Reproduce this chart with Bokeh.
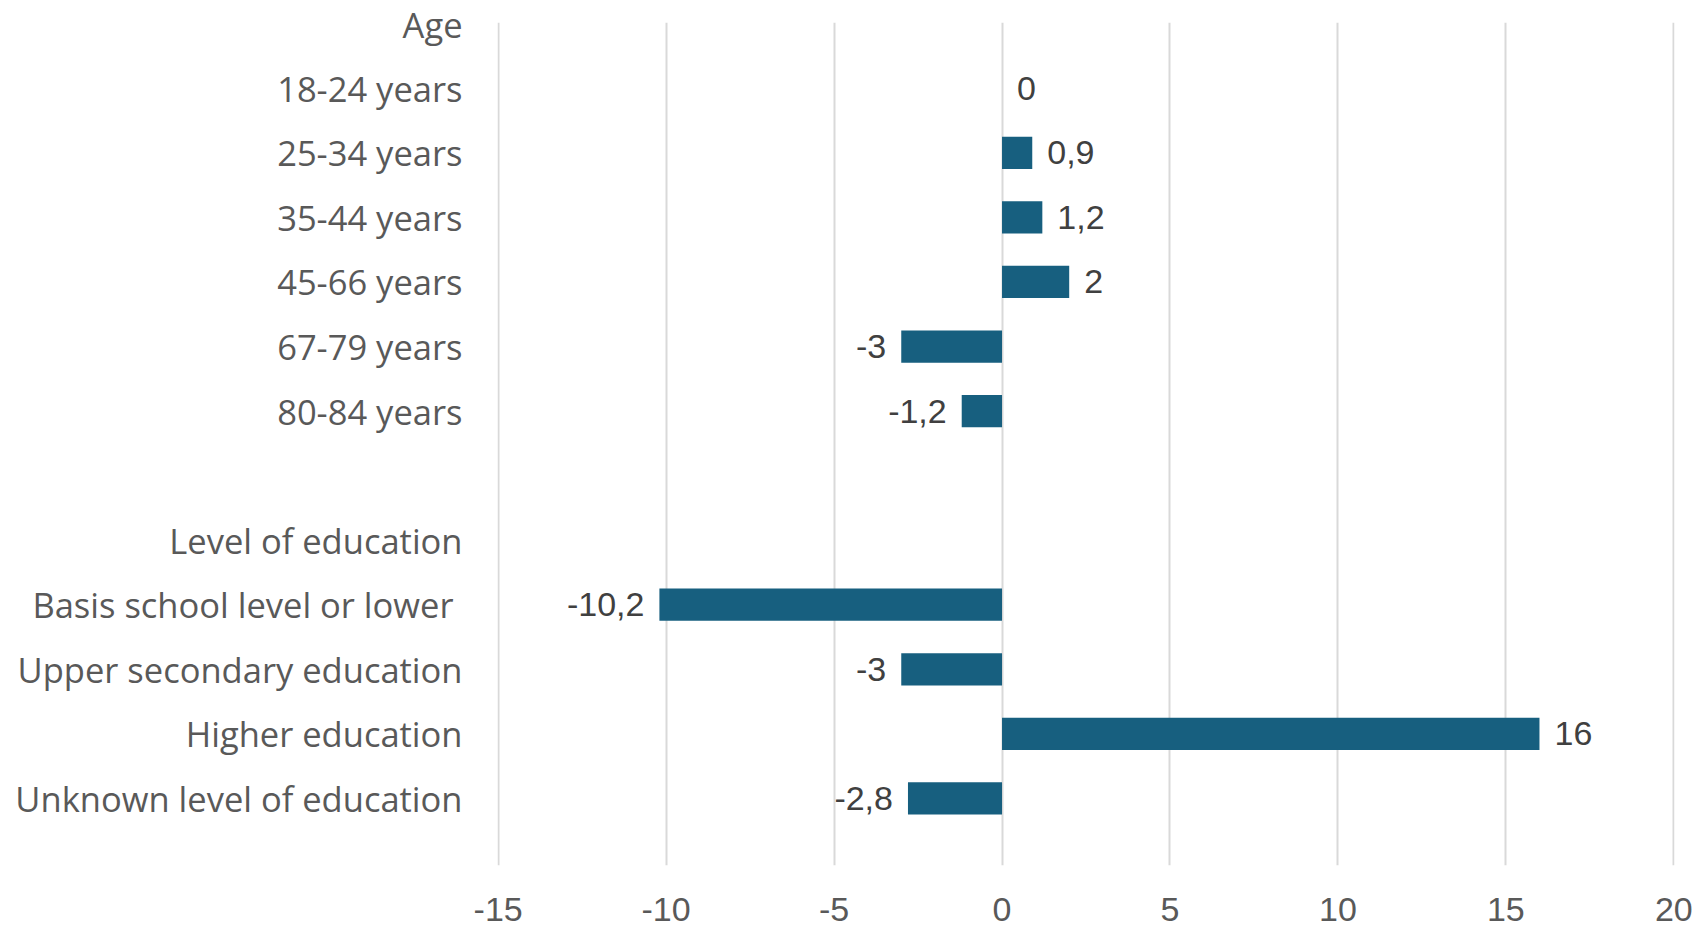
from bokeh.plotting import figure
from bokeh.models import Range1d, FixedTicker, ColumnDataSource
from bokeh.embed import file_html
from bokeh.resources import INLINE
from bokeh.core.properties import value

# ---- data ----
categories = [
    "Age", "18-24 years", "25-34 years", "35-44 years", "45-66 years",
    "67-79 years", "80-84 years", "",
    "Level of education", "Basis school level or lower ",
    "Upper secondary education", "Higher education",
    "Unknown level of education",
]
values = [None, 0, 0.9, 1.2, 2, -3, -1.2, None, None, -10.2, -3, 16, -2.8]
x_ticks = [-15, -10, -5, 0, 5, 10, 15, 20]

BAR = "#175F7F"
LABEL = "#595959"
DATA_LABEL = "#404040"
GRID = "#D9D9D9"

n = len(categories)
pos = list(range(n))

bar_y = [i for i, v in zip(pos, values) if v is not None]
bar_v = [v for v in values if v is not None]
lab_txt = [f"{v:g}".replace(".", ",") for v in bar_v]
lab_align = ["left" if v >= 0 else "right" for v in bar_v]
lab_off = [15 if v >= 0 else -15 for v in bar_v]

src = ColumnDataSource(dict(y=bar_y, v=bar_v, txt=lab_txt, align=lab_align, off=lab_off))

p = figure(
    width=1706, height=926,
    x_range=Range1d(-15.02, 20.02),
    y_range=Range1d(13.04, -0.02),
    output_backend="svg", toolbar_location=None,
    min_border_left=497, min_border_right=32,
    min_border_top=22, min_border_bottom=61,
)
p.outline_line_color = None
p.background_fill_color = "white"
p.border_fill_color = "white"

p.hbar(y="y", left=0, right="v", height=0.5, source=src,
       fill_color=BAR, line_color=None)

p.text(x="v", y="y", text="txt", source=src, text_align="align",
       x_offset="off", text_baseline="middle",
       text_font=value("Liberation Sans"), text_font_size="34px",
       text_color=DATA_LABEL)

# x axis and grid
p.xaxis.ticker = FixedTicker(ticks=x_ticks)
p.xaxis.major_label_overrides = {t: str(t) for t in x_ticks}
p.xgrid.ticker = FixedTicker(ticks=x_ticks)
p.xgrid.grid_line_color = GRID
p.xgrid.grid_line_width = 2
p.ygrid.visible = False
p.xaxis.axis_line_color = None
p.xaxis.major_tick_line_color = None
p.xaxis.minor_tick_line_color = None
p.xaxis.major_tick_out = 0
p.xaxis.major_tick_in = 0
p.xaxis.major_label_standoff = 32
p.xaxis.major_label_text_font = "Liberation Sans"
p.xaxis.major_label_text_font_size = "34px"
p.xaxis.major_label_text_color = LABEL

# y axis with category labels
ticks_y = [i for i, c in zip(pos, categories) if c.strip()]
p.yaxis.ticker = FixedTicker(ticks=ticks_y)
p.yaxis.major_label_overrides = {i: categories[i] for i in ticks_y}
p.yaxis.axis_line_color = None
p.yaxis.major_tick_line_color = None
p.yaxis.minor_tick_line_color = None
p.yaxis.major_tick_out = 0
p.yaxis.major_tick_in = 0
p.yaxis.major_label_standoff = 35
p.yaxis.major_label_text_font = "Open Sans"
p.yaxis.major_label_text_font_size = "34.5px"
p.yaxis.major_label_text_color = LABEL

open("out.html", "w").write(file_html(p, INLINE))
